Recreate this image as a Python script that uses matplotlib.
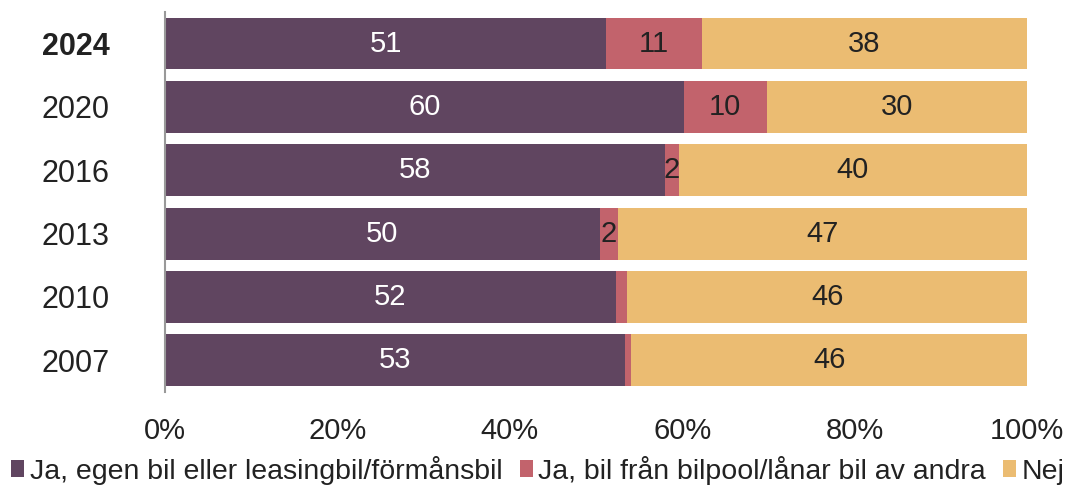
import matplotlib
matplotlib.use("Agg")
import matplotlib.pyplot as plt
import numpy as np

plt.rcParams["font.family"] = ["Liberation Sans", "DejaVu Sans"]

# ---------------------------------------------------------------------------
# Data (top row first)
# ---------------------------------------------------------------------------
YEARS = ["2024", "2020", "2016", "2013", "2010", "2007"]
OWN_CAR = [51.2, 60.2, 58.0, 50.4, 52.3, 53.4]
SHARED_CAR = [11.1, 9.6, 1.6, 2.2, 1.3, 0.7]
NO_CAR = [37.7, 30.2, 40.4, 47.4, 46.4, 45.9]

SERIES = [
    ("Ja, egen bil eller leasingbil/förmånsbil", OWN_CAR, "#604560", "white"),
    ("Ja, bil från bilpool/lånar bil av andra", SHARED_CAR, "#C2636C", "#222222"),
    ("Nej", NO_CAR, "#EBBC72", "#222222"),
]


def main() -> None:
    fig = plt.figure(figsize=(10.88, 4.93), dpi=100)
    ax = fig.add_axes([0.1517, 0.205, 0.7923, 0.771])

    y = np.arange(len(YEARS))
    left = np.zeros(len(YEARS))
    for label, vals, color, txt in SERIES:
        vals = np.array(vals)
        ax.barh(y, vals, left=left, height=0.82, color=color, label=label,
                linewidth=0)
        for yi, l, v in zip(y, left, vals):
            if v >= 1.5:
                ax.text(l + v / 2, yi, f"{v:.0f}", ha="center", va="center",
                        fontsize=21, color=txt)
        left += vals

    ax.set_xlim(0, 100)
    ax.set_ylim(len(YEARS) - 0.5, -0.5)
    ax.set_yticks(y)
    ax.set_yticklabels(YEARS, fontsize=22, color="#222222")
    ax.get_yticklabels()[0].set_fontweight("bold")
    ax.set_xticks(np.arange(0, 101, 20))
    ax.set_xticklabels([f"{t}%" for t in range(0, 101, 20)], fontsize=21,
                       color="#222222")
    ax.tick_params(length=0)
    ax.tick_params(axis="y", pad=40)
    ax.tick_params(axis="x", pad=18)
    for s in ["top", "right", "bottom"]:
        ax.spines[s].set_visible(False)
    ax.spines["left"].set_color("#999999")
    ax.spines["left"].set_linewidth(1.5)

    fig.legend(loc="lower left", bbox_to_anchor=(-0.013, -0.035), ncol=3,
               frameon=False, fontsize=20.5, handlelength=0.45,
               handleheight=0.5, handletextpad=0.2, columnspacing=0.6,
               labelcolor="#222222")

    fig.savefig("out.png", dpi=100)
    plt.close(fig)


if __name__ == "__main__":
    main()
